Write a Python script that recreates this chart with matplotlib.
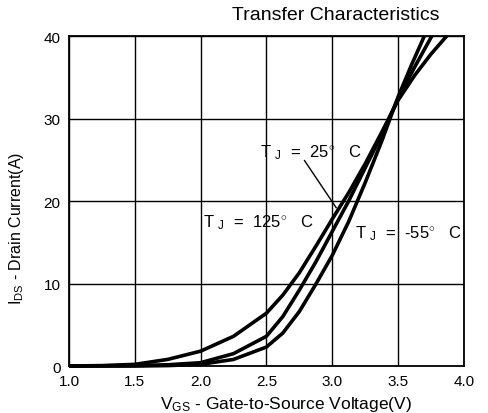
import numpy as np
import matplotlib.pyplot as plt

plt.rcParams['font.family'] = ['Liberation Sans', 'DejaVu Sans']
plt.rcParams['mathtext.fontset'] = 'custom'
plt.rcParams['mathtext.rm'] = 'Liberation Sans'
plt.rcParams['mathtext.it'] = 'Liberation Sans'

# gate voltage (V) / drain current (A)
v_125 = [1.0, 1.25, 1.5, 1.75, 2.0, 2.25, 2.5, 2.625, 2.75, 2.875, 3.0, 3.125, 3.25, 3.375, 3.5, 3.625, 3.75, 3.87]
i_125 = [0, 0.05, 0.2, 0.8, 1.8, 3.6, 6.4, 8.6, 11.3, 14.5, 17.8, 21.0, 24.5, 28.3, 32.2, 35.2, 37.8, 40.0]

v_25 = [1.0, 1.5, 1.75, 2.0, 2.25, 2.5, 2.625, 2.75, 2.875, 3.0, 3.125, 3.25, 3.375, 3.5, 3.625, 3.757]
i_25 = [0, 0.05, 0.15, 0.4, 1.5, 3.6, 6.0, 9.2, 12.6, 16.3, 20.0, 24.0, 28.0, 32.4, 36.2, 40.0]

v_m55 = [1.0, 1.5, 1.75, 2.0, 2.25, 2.5, 2.625, 2.75, 2.875, 3.0, 3.125, 3.25, 3.375, 3.5, 3.6, 3.70]
i_m55 = [0, 0, 0.05, 0.2, 0.8, 2.3, 4.0, 6.6, 9.9, 13.4, 17.5, 22.2, 27.2, 32.6, 36.4, 40.0]

xticks = [1.0, 1.5, 2.0, 2.5, 3.0, 3.5, 4.0]
yticks = [0, 10, 20, 30, 40]

fig = plt.figure(figsize=(4.88, 4.14), dpi=100)
ax = fig.add_axes([0.1414, 0.1135, 0.809, 0.797])

for v, i in [(v_125, i_125), (v_25, i_25), (v_m55, i_m55)]:
    ax.plot(v, i, color='black', lw=2.6, solid_capstyle='butt', clip_on=False, zorder=3)

ax.set_xlim(1.0, 4.0)
ax.set_ylim(0, 40)
ax.set_xticks(xticks)
ax.set_xticklabels(['%.1f' % x for x in xticks])
ax.set_yticks(yticks)
ax.grid(True, color='black', lw=1.0)
ax.tick_params(length=0, labelsize=11, pad=6)
for s in ax.spines.values():
    s.set_linewidth(1.3)

ax.set_xlabel(r'V$_{\rm GS}$ - Gate-to-Source Voltage(V)', fontsize=12.5)
ax.xaxis.set_label_coords(0.55, -0.085)
ax.set_ylabel(r'I$_{\rm DS}$ - Drain Current(A)', fontsize=11.5)
ax.yaxis.set_label_coords(-0.11, 0.42)
fig.text(0.689, 0.962, 'Transfer Characteristics', ha='center', va='center', fontsize=14)

# annotations
ax.text(2.45, 26.0, r'T $_{\rm J}$  =  25$^{\circ}$   C', fontsize=12, va='center')
ax.plot([2.79, 3.03], [24.9, 19.2], color='black', lw=1.0)
ax.text(2.02, 17.5, r'T $_{\rm J}$  =  125$^{\circ}$   C', fontsize=12, va='center')
ax.text(3.17, 16.2, r'T $_{\rm J}$  =  -55$^{\circ}$   C', fontsize=12, va='center')

fig.savefig('out.png', dpi=100)
